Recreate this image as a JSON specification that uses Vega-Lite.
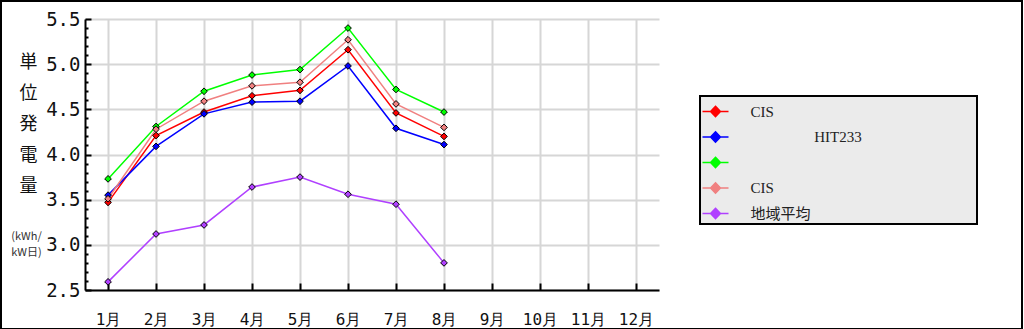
{
  "$schema": "https://vega.github.io/schema/vega-lite/v6.json",
  "autosize": {"type": "none"},
  "padding": {"left": 85, "top": 19, "right": 365, "bottom": 39},
  "width": 574,
  "height": 271,
  "background": "white",
  "data": {"values": [
    {"m": "1月", "s": "a", "v": 3.47}, {"m": "2月", "s": "a", "v": 4.21}, {"m": "3月", "s": "a", "v": 4.47}, {"m": "4月", "s": "a", "v": 4.65},
    {"m": "5月", "s": "a", "v": 4.71}, {"m": "6月", "s": "a", "v": 5.16}, {"m": "7月", "s": "a", "v": 4.46}, {"m": "8月", "s": "a", "v": 4.20},
    {"m": "1月", "s": "b", "v": 3.55}, {"m": "2月", "s": "b", "v": 4.09}, {"m": "3月", "s": "b", "v": 4.45}, {"m": "4月", "s": "b", "v": 4.58},
    {"m": "5月", "s": "b", "v": 4.59}, {"m": "6月", "s": "b", "v": 4.98}, {"m": "7月", "s": "b", "v": 4.29}, {"m": "8月", "s": "b", "v": 4.11},
    {"m": "1月", "s": "c", "v": 3.73}, {"m": "2月", "s": "c", "v": 4.31}, {"m": "3月", "s": "c", "v": 4.70}, {"m": "4月", "s": "c", "v": 4.88},
    {"m": "5月", "s": "c", "v": 4.94}, {"m": "6月", "s": "c", "v": 5.40}, {"m": "7月", "s": "c", "v": 4.72}, {"m": "8月", "s": "c", "v": 4.47},
    {"m": "1月", "s": "d", "v": 3.51}, {"m": "2月", "s": "d", "v": 4.28}, {"m": "3月", "s": "d", "v": 4.59}, {"m": "4月", "s": "d", "v": 4.76},
    {"m": "5月", "s": "d", "v": 4.80}, {"m": "6月", "s": "d", "v": 5.27}, {"m": "7月", "s": "d", "v": 4.56}, {"m": "8月", "s": "d", "v": 4.30},
    {"m": "1月", "s": "e", "v": 2.59}, {"m": "2月", "s": "e", "v": 3.12}, {"m": "3月", "s": "e", "v": 3.22}, {"m": "4月", "s": "e", "v": 3.64},
    {"m": "5月", "s": "e", "v": 3.75}, {"m": "6月", "s": "e", "v": 3.56}, {"m": "7月", "s": "e", "v": 3.45}, {"m": "8月", "s": "e", "v": 2.80}
  ]},
  "encoding": {
    "x": {
      "field": "m", "type": "ordinal",
      "scale": {"domain": ["1月","2月","3月","4月","5月","6月","7月","8月","9月","10月","11月","12月"], "padding": 0.48},
      "axis": {
        "title": null, "labelAngle": 0, "labelFont": "DejaVu Sans Mono", "labelFontSize": 16, "labelColor": "#111",
        "tickSize": -7, "tickColor": "black", "tickWidth": 2, "labelPadding": 28,
        "domainColor": "black", "domainWidth": 2, "grid": true, "gridColor": "#d6d6d6", "gridWidth": 2
      }
    },
    "color": {
      "field": "s", "type": "nominal",
      "scale": {"domain": ["a","b","c","d","e"], "range": ["#ff0000","#0000ff","#00ff00","#f08080","#b040ff"]},
      "legend": {
        "title": null, "orient": "none", "legendX": 615, "legendY": 77,
        "labelExpr": "datum.value=='a' ? 'CIS' : datum.value=='b' ? '\u200b\u00a0\u00a0\u00a0\u00a0\u00a0\u00a0\u00a0\u00a0\u00a0\u00a0\u00a0\u00a0\u00a0\u00a0\u00a0\u00a0\u00a0HIT233' : datum.value=='c' ? '\u200b\u00a0\u00a0\u00a0\u00a0\u00a0\u00a0\u00a0\u00a0\u00a0\u00a0\u00a0\u00a0\u00a0\u00a0\u00a0\u00a0\u00a0\u00a0\u00a0\u00a0\u00a0\u00a0\u00a0\u00a0\u00a0\u00a0\u00a0\u00a0\u00a0\u00a0\u00a0\u00a0\u00a0\u00a0\u00a0\u00a0\u00a0\u00a0\u00a0\u00a0\u00a0\u00a0\u00a0\u00a0\u00a0\u00a0\u00a0\u00a0\u00a0\u00a0\u00a0\u00a0\u00a0\u00a0\u00a0\u00a0\u00a0\u00a0\u00a0\u00a0\u200b' : datum.value=='d' ? 'CIS' : '地域平均'",
        "fillColor": "#ebebeb", "strokeColor": "black", "padding": 1.5,
        "labelFont": "Liberation Serif, Noto Sans CJK JP", "labelFontSize": 15, "labelColor": "#222",
        "labelOffset": 21, "rowPadding": 2.5, "labelLimit": 400,
        "symbolSize": 676, "symbolStrokeWidth": 1.5,
        "symbolType": "M-1,0H-0.38M0.38,0H1M0,-0.4L0.38,0L0,0.4L-0.38,0Z"
      }
    }
  },
  "layer": [
    {
      "mark": {"type": "line", "strokeWidth": 1.5},
      "encoding": {
        "y": {
          "field": "v", "type": "quantitative",
          "scale": {"domain": [2.5, 5.5], "nice": false, "zero": false},
          "axis": {
            "values": [2.5, 3, 3.5, 4, 4.5, 5, 5.5], "format": ".1f",
            "labelFont": "DejaVu Sans Mono", "labelFontSize": 19, "labelColor": "#111",
            "tickSize": -6, "tickColor": "black", "tickWidth": 2, "labelPadding": 11,
            "domainColor": "black", "domainWidth": 2, "grid": true, "gridColor": "#d6d6d6", "gridWidth": 2,
            "title": ["単","位","発","電","量"], "titleAngle": 0, "titleFont": "Noto Sans CJK JP", "titleFontWeight": "normal",
            "titleFontSize": 18, "titleLineHeight": 31, "titleAlign": "center", "titleBaseline": "top",
            "titleX": -57, "titleY": 34, "titleColor": "#111"
          }
        }
      }
    },
    {
      "mark": {"type": "point", "shape": "diamond", "filled": true, "size": 45, "strokeWidth": 1, "opacity": 1},
      "encoding": {
        "y": {
          "field": "v", "type": "quantitative",
          "axis": {
            "orient": "left",
            "values": [2.6,2.7,2.8,2.9,3.1,3.2,3.3,3.4,3.6,3.7,3.8,3.9,4.1,4.2,4.3,4.4,4.6,4.7,4.8,4.9,5.1,5.2,5.3,5.4],
            "labels": false, "grid": false, "domain": false,
            "tickSize": -3, "tickColor": "black", "tickWidth": 2,
            "title": ["(kWh/","kW日)"], "titleAngle": 0, "titleFont": "Noto Sans CJK JP", "titleFontWeight": "normal",
            "titleFontSize": 11, "titleLineHeight": 16, "titleAlign": "center", "titleBaseline": "top",
            "titleX": -59, "titleY": 211, "titleColor": "#333"
          }
        },
        "stroke": {
          "field": "v", "type": "quantitative",
          "scale": {"range": ["#000000", "#000000"]},
          "legend": {
            "type": "gradient", "direction": "horizontal", "orient": "none",
            "legendX": -84, "legendY": -18, "gradientLength": 1021, "gradientThickness": 326,
            "gradientOpacity": 0, "labelExpr": "''", "labelFontSize": 0, "labelOpacity": 0, "title": null, "padding": 0,
            "strokeColor": "black", "fillColor": null
          }
        }
      }
    }
  ],
  "resolve": {"axis": {"y": "independent"}},
  "config": {"view": {"stroke": null}, "legend": {"strokeWidth": 2}}
}
